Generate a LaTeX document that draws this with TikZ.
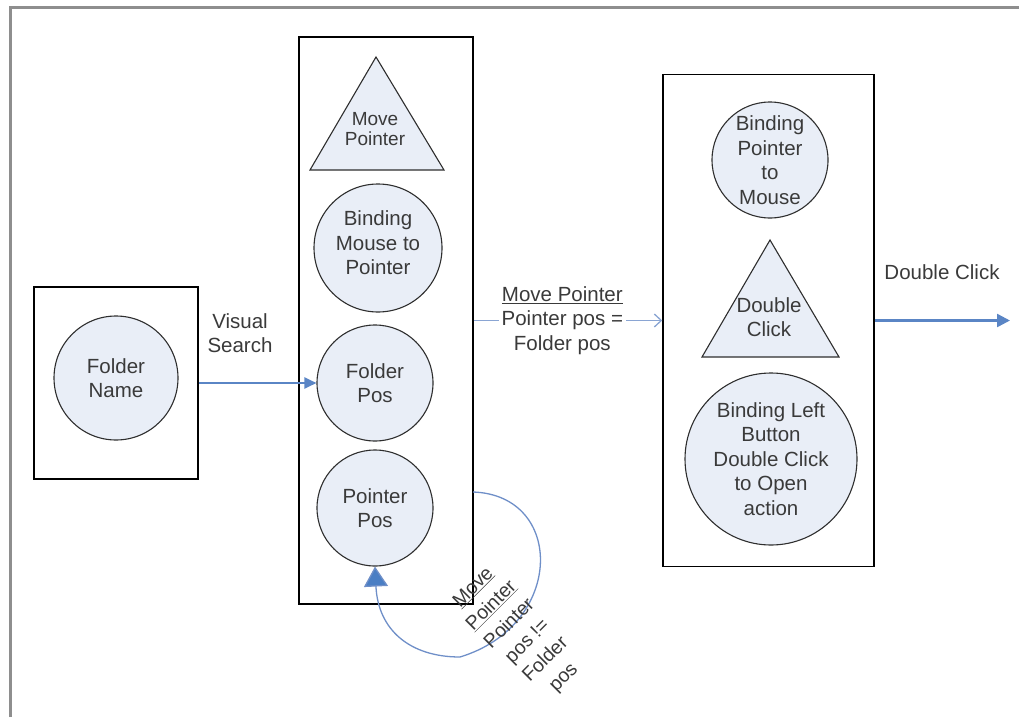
\documentclass[tikz,border=0pt]{standalone}
\usepackage{fontspec}
\setmainfont{Liberation Sans}
\usetikzlibrary{arrows.meta}

\definecolor{ink}{HTML}{3A3A3A}
\definecolor{shapefill}{HTML}{E9EEF7}
\definecolor{shapeline}{HTML}{2E2E2E}
\definecolor{flowblue}{HTML}{5A85C5}
\definecolor{lightflow}{HTML}{8AA5D3}
\definecolor{loopblue}{HTML}{6F8FC8}
\definecolor{tipblue}{HTML}{4A7EC4}
\definecolor{framegray}{HTML}{8E8E8E}

\begin{document}
\begin{tikzpicture}[x=1pt,y=-1pt,
  every node/.style={font=\fontsize{20.5}{24.5}\selectfont, text=ink, inner sep=0pt},
  panel/.style={draw=black, line width=1.5pt, rectangle},
  bubble/.style={circle, draw=shapeline, line width=1.1pt, fill=shapefill, align=center},
  trishape/.style={draw=shapeline, line width=1.1pt, fill=shapefill, line join=miter},
  textblock/.style={align=center},
  flow/.style={draw=flowblue, line width=2pt, -{Triangle[length=12pt,width=11pt]}},
  flowlight/.style={draw=lightflow, line width=1.5pt, -{Straight Barb[length=7pt,width=13pt,line width=1.3pt]}},
  flowout/.style={draw=flowblue, line width=2.5pt, -{Triangle[length=13pt,width=13pt]}},
  loopback/.style={draw=loopblue, line width=1.3pt, -{Triangle[length=20pt,width=24pt,fill=tipblue]}}]

\useasboundingbox (0,0) rectangle (1019,717);

% window frame
\draw[framegray, line width=3pt, line join=miter] (10.5,717) -- (10.5,7.5) -- (1019,7.5);

% panels
\node[panel, minimum width=164pt, minimum height=192pt] (box1) at (116,383) {};
\node[panel, minimum width=174pt, minimum height=567pt] (box2) at (386,320.5) {};
\node[panel, minimum width=211pt, minimum height=492pt] (box3) at (768.5,320.5) {};

% first panel
\node[bubble, minimum size=124pt] (foldername) at (116,378) {Folder\\Name};

% second panel
\coordinate (mp-top) at (376,57);
\coordinate (mp-r) at (444,170);
\coordinate (mp-l) at (310,170);
\filldraw[trishape] (mp-top) -- (mp-r) -- (mp-l) -- cycle;
\node[textblock, font=\fontsize{19}{19.5}\selectfont] (movepointer) at (375,129) {Move\\Pointer};
\node[bubble, minimum size=128pt] (bindmouse) at (378,248) {};
\node[textblock] (bindmousetext) at (378,243) {Binding\\Mouse to\\Pointer};
\node[bubble, minimum size=116pt] (folderpos) at (375,383) {Folder\\Pos};
\node[bubble, minimum size=116pt] (pointerpos) at (375,508) {Pointer\\Pos};

% third panel
\node[bubble, minimum size=116pt] (bindptr) at (770,160) {};
\node[textblock] (bindptrtext) at (770,160) {Binding\\Pointer\\to\\Mouse};
\coordinate (dc-top) at (770,240);
\coordinate (dc-r) at (839,357);
\coordinate (dc-l) at (702,357);
\filldraw[trishape] (dc-top) -- (dc-r) -- (dc-l) -- cycle;
\node[textblock] (dblclick) at (769,317) {Double\\Click};
\node[bubble, minimum size=172pt] (bindleft) at (771,459) {};
\node[textblock] (bindlefttext) at (771,459) {Binding Left\\Button\\Double Click\\to Open\\action};

% connectors
\node[textblock] (vslabel) at (240,333) {Visual\\Search};
\draw[flow] (box1.east) -- (folderpos.west);

\draw[flowlight] (box2.east) -- node[pos=0.47, fill=white, inner xsep=3pt, textblock] (mvlabel)
  {\underline{Move Pointer}\\Pointer pos =\\Folder pos} (box3.west);

\coordinate (exit) at (1010,320.5);
\draw[flowout] (box3.east) -- (exit);
\node (dclabel) at (942,272) {Double Click};

\coordinate (loopstart) at (473,492);
\draw[loopback] (loopstart) .. controls (565,495) and (565,625) .. (460,657)
  .. controls (410,657) and (378,630) .. (pointerpos.south);
\node[textblock, rotate=45, font=\fontsize{19.5}{25.5}\selectfont] (looplabel) at (519,633)
  {\underline{Move}\\\underline{Pointer}\\Pointer\\pos !=\\Folder\\pos};

\end{tikzpicture}
\end{document}
